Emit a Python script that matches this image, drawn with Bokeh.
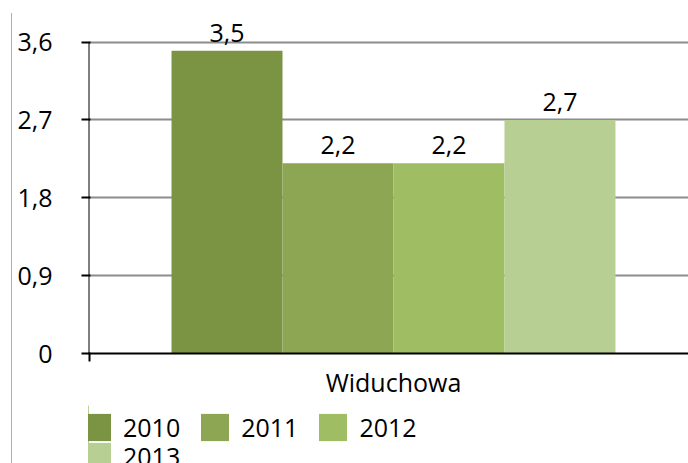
from bokeh.plotting import figure
from bokeh.models import (ColumnDataSource, Range1d, FixedTicker, LabelSet, Legend,
                          LegendItem, Spacer)
from bokeh.core.properties import value
from bokeh.layouts import row, column
from bokeh.embed import file_html
from bokeh.resources import INLINE

# ---- data ----
category = "Widuchowa"
years = ["2010", "2011", "2012", "2013"]
values = [3.5, 2.2, 2.2, 2.7]
value_labels = ["3,5", "2,2", "2,2", "2,7"]
colors = ["#7a9444", "#8ca653", "#9fbd63", "#b8cf94"]
y_ticks = [0, 0.9, 1.8, 2.7, 3.6]
y_tick_labels = ["0", "0,9", "1,8", "2,7", "3,6"]

FONT = "Open Sans"
FS = "25px"

offsets = [-1.5, -0.5, 0.5, 1.5]
x_start, x_end = -2.748, 2.658
y_top = 3.941  # headroom above the last tick for the value labels

p = figure(width=676, height=405, output_backend="svg", toolbar_location=None,
           x_range=Range1d(x_start, x_end), y_range=Range1d(0, y_top),
           min_border_left=76, min_border_right=0, min_border_top=12,
           min_border_bottom=52)
p.outline_line_color = None
p.background_fill_color = "white"
p.border_fill_color = "white"

for yr, off, v, c in zip(years, offsets, values, colors):
    src = ColumnDataSource(dict(x=[off], top=[v]))
    p.vbar(x="x", top="top", bottom=0, width=1.0, source=src,
           fill_color=c, line_color=None)

lab_src = ColumnDataSource(dict(x=offsets, y=values, t=value_labels))
labels = LabelSet(x="x", y="y", text="t", source=lab_src, y_offset=9,
                  text_align="center", text_baseline="alphabetic",
                  text_font=value(FONT), text_font_size=value(FS),
                  text_color="black")
p.add_layout(labels)

# y axis (line drawn only up to the last tick)
p.segment(x0=[x_start], y0=[0], x1=[x_start], y1=[y_ticks[-1]],
          line_color="black", line_width=2)
ya = p.yaxis[0]
ya.ticker = FixedTicker(ticks=y_ticks, minor_ticks=[])
ya.major_label_overrides = {t: l for t, l in zip(y_ticks, y_tick_labels)}
ya.axis_line_color = None
ya.major_tick_line_width = 2
ya.major_tick_line_color = "black"
ya.major_tick_in = 2
ya.major_tick_out = 7
ya.minor_tick_line_color = None
ya.major_label_standoff = 29
ya.major_label_text_font = FONT
ya.major_label_text_font_size = FS
ya.major_label_text_color = "black"

# x axis
xa = p.xaxis[0]
xa.ticker = FixedTicker(ticks=[0], minor_ticks=[x_start + 0.005])
xa.major_label_overrides = {0: category}
xa.axis_line_width = 2
xa.axis_line_color = "black"
xa.major_tick_out = 0
xa.major_tick_in = 0
xa.minor_tick_out = 8
xa.minor_tick_in = 0
xa.minor_tick_line_width = 2
xa.minor_tick_line_color = "black"
xa.major_label_standoff = 3
xa.major_label_text_font = FONT
xa.major_label_text_font_size = FS
xa.major_label_text_color = "black"

p.xgrid.grid_line_color = None
p.ygrid.ticker = FixedTicker(ticks=y_ticks)
p.ygrid.grid_line_color = "#8c8c8c"
p.ygrid.grid_line_width = 2

# ---- legend figure (its bars lie outside its visible range) ----
lf = figure(width=676, height=58, output_backend="svg", toolbar_location=None,
            x_range=Range1d(100, 101), y_range=Range1d(0, 1),
            min_border=0, min_border_left=0, min_border_right=0,
            min_border_top=0, min_border_bottom=0)
lf.axis.visible = False
lf.grid.visible = False
lf.outline_line_color = None
lf.border_fill_color = "white"

leg_renderers = []
for off, v, c in zip(offsets, values, colors):
    r = lf.vbar(x=[off], top=[v], width=1.0, fill_color=c, line_color=None)
    leg_renderers.append(r)

def make_legend(items, loc):
    return Legend(items=items, location=loc, orientation="horizontal",
                  glyph_width=35, glyph_height=34, label_standoff=9, spacing=17,
                  padding=0, margin=0, border_line_color=None,
                  background_fill_alpha=0, label_text_font=FONT,
                  label_text_font_size=FS, label_text_color="black")

items1 = [LegendItem(label=yr, renderers=[r]) for yr, r in zip(years[:3], leg_renderers[:3])]
items2 = [LegendItem(label=years[3], renderers=[leg_renderers[3]])]
lf.add_layout(make_legend(items1, (-9, 19)))
lf.add_layout(make_legend(items2, (-9, -10)))

line = Spacer(width=1, height=450, margin=(13, 0, 0, 11),
              styles={"background-color": "#b0b0b0"})

layout = row(line, column(p, lf))
open("out.html", "w").write(file_html(layout, INLINE))
